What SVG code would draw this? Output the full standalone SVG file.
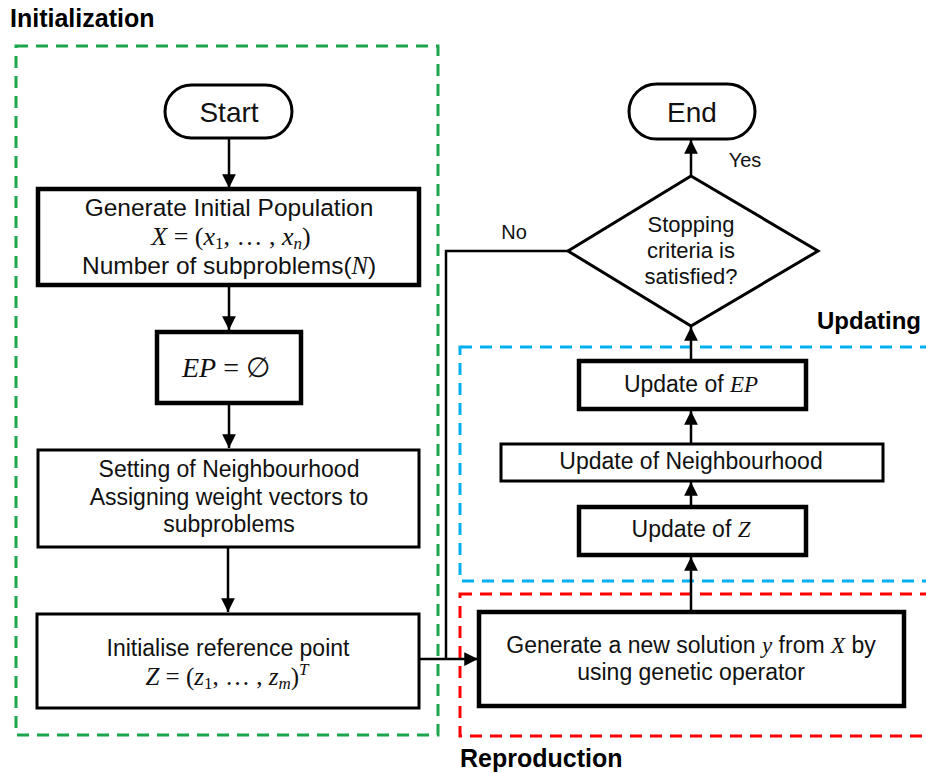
<svg xmlns="http://www.w3.org/2000/svg" width="926" height="773" viewBox="0 0 926 773">
<defs>
<style>
.t{font-family:"Liberation Sans",Arial,sans-serif;font-size:23px;fill:#111;text-anchor:middle}
.m{font-family:"Liberation Serif","DejaVu Serif",serif;font-style:italic}
.mn{font-family:"Liberation Serif","DejaVu Serif",serif;font-style:normal}
.h{font-family:"Liberation Sans",Arial,sans-serif;font-size:25px;font-weight:bold;fill:#000}
.box{fill:#fff;stroke:#000;stroke-width:3}
.thick{fill:#fff;stroke:#000;stroke-width:4.5}
.c{fill:none;stroke:#000;stroke-width:2.5}
.dash{fill:none;stroke-width:3;stroke-dasharray:12 8}
</style>
<marker id="arr" viewBox="0 0 10 10" refX="10" refY="5" markerWidth="5.5" markerHeight="5.5" markerUnits="strokeWidth" orient="auto">
<path d="M0,0 L10,5 L0,10 Z" fill="#000"/>
</marker>
</defs>
<rect width="926" height="773" fill="#fff"/>

<g id="regions">
<rect class="dash" x="16" y="46" width="422" height="689" stroke="#1aa64a"/>
<rect class="dash" x="460" y="347" width="480" height="234" stroke="#00b0f0"/>
<rect class="dash" x="460" y="594" width="480" height="142" stroke="#ff0000"/>
<text class="h" x="10" y="27">Initialization</text>
<text class="h" x="817" y="329" style="font-size:24px">Updating</text>
<text class="h" x="460" y="767">Reproduction</text>
</g>

<g id="connectors">
<line class="c" x1="229" y1="138" x2="229" y2="188" marker-end="url(#arr)"/>
<line class="c" x1="229" y1="286" x2="229" y2="330" marker-end="url(#arr)"/>
<line class="c" x1="229" y1="404" x2="229" y2="448" marker-end="url(#arr)"/>
<line class="c" x1="228" y1="547" x2="228" y2="612" marker-end="url(#arr)"/>
<line class="c" x1="419" y1="659" x2="478" y2="659" marker-end="url(#arr)"/>
<polyline class="c" points="568,251 446,251 446,659"/>
<line class="c" x1="691" y1="612" x2="691" y2="557" marker-end="url(#arr)"/>
<line class="c" x1="691" y1="507" x2="691" y2="482" marker-end="url(#arr)"/>
<line class="c" x1="691" y1="444" x2="691" y2="411" marker-end="url(#arr)"/>
<line class="c" x1="691" y1="361" x2="691" y2="327" marker-end="url(#arr)"/>
<line class="c" x1="691" y1="176" x2="691" y2="140" marker-end="url(#arr)"/>
<text class="t" x="745" y="167" style="font-size:20px">Yes</text>
<text class="t" x="514" y="239" style="font-size:20px">No</text>
</g>

<g id="start">
<rect class="box" x="165" y="85" width="127" height="53" rx="26.5"/>
<text class="t" x="229" y="122" style="font-size:28px">Start</text>
</g>

<g id="gen-pop">
<rect class="thick" x="38" y="189" width="381" height="96"/>
<text class="t" x="229" y="216" style="font-size:24.5px">Generate Initial Population</text>
<text class="t" x="231" y="245" style="font-size:26px"><tspan class="m">X</tspan><tspan class="mn"> = (</tspan><tspan class="m">x</tspan><tspan class="mn" font-size="17" dy="4">1</tspan><tspan class="mn" dy="-4">, … , </tspan><tspan class="m">x</tspan><tspan class="m" font-size="17" dy="4">n</tspan><tspan class="mn" dy="-4">)</tspan></text>
<text class="t" x="229" y="274" style="font-size:24.5px">Number of subproblems(<tspan class="m">N</tspan>)</text>
</g>

<g id="ep-init">
<rect class="thick" x="157" y="332" width="144" height="71"/>
<text class="t" x="226" y="377" style="font-size:28px"><tspan class="m">EP</tspan><tspan class="mn"> = ∅</tspan></text>
</g>

<g id="neigh-set">
<rect class="box" x="38" y="450" width="381" height="97"/>
<text class="t" x="229" y="477">Setting of Neighbourhood</text>
<text class="t" x="229" y="505">Assigning weight vectors to</text>
<text class="t" x="229" y="532">subproblems</text>
</g>

<g id="init-ref">
<rect class="box" x="37" y="614" width="382" height="94"/>
<text class="t" x="228" y="656">Initialise reference point</text>
<text class="t" x="227" y="685" style="font-size:25px"><tspan class="m">Z</tspan><tspan class="mn"> = (</tspan><tspan class="m">z</tspan><tspan class="mn" font-size="17" dy="4">1</tspan><tspan class="mn" dy="-4">, … , </tspan><tspan class="m">z</tspan><tspan class="m" font-size="17" dy="4">m</tspan><tspan class="mn" dy="-4">)</tspan><tspan class="m" font-size="17" dy="-10">T</tspan></text>
</g>

<g id="gen-new">
<rect class="thick" x="479" y="612" width="425" height="94"/>
<text class="t" x="691" y="653">Generate a new solution <tspan class="m">y</tspan> from <tspan class="m">X</tspan> by</text>
<text class="t" x="691" y="680">using genetic operator</text>
</g>

<g id="upd-z">
<rect class="thick" x="579" y="507" width="227" height="48"/>
<text class="t" x="691" y="537">Update of <tspan class="m">Z</tspan></text>
</g>

<g id="upd-neigh">
<rect class="box" x="501" y="444" width="382" height="37"/>
<text class="t" x="691" y="469">Update of Neighbourhood</text>
</g>

<g id="upd-ep">
<rect class="thick" x="579" y="361" width="227" height="48"/>
<text class="t" x="691" y="392">Update of <tspan class="m">EP</tspan></text>
</g>

<g id="decision">
<polygon class="box" points="691,176 818,251 691,326 568,251"/>
<text class="t" x="691" y="232" style="font-size:22px">Stopping</text>
<text class="t" x="691" y="258" style="font-size:22px">criteria is</text>
<text class="t" x="691" y="284" style="font-size:22px">satisfied?</text>
</g>

<g id="end">
<rect class="box" x="629" y="84" width="126" height="55" rx="27.5"/>
<text class="t" x="692" y="122" style="font-size:28px">End</text>
</g>
</svg>
